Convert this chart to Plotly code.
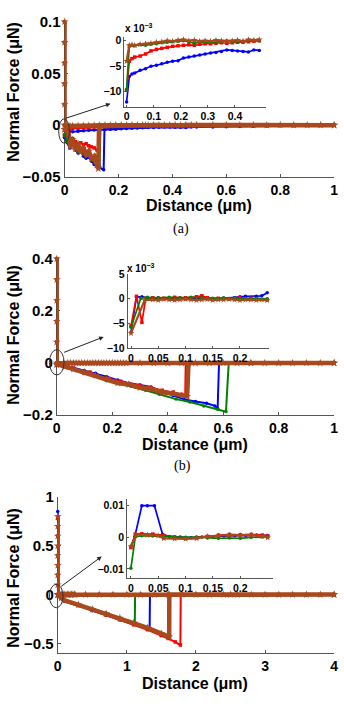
import plotly.graph_objects as go

W, H = 344, 707
COLORS = {'blue': '#0000FF', 'red': '#FF0000', 'green': '#008000', 'brown': '#A8491E'}
ORDER = ['blue', 'red', 'green', 'brown']

# ---------------- Panel (a) ----------------
A_XTICKS = [0, 0.2, 0.4, 0.6, 0.8, 1]
A_XTEXT = ['0', '0.2', '0.4', '0.6', '0.8', '1']
A_YTICKS = [-0.05, 0, 0.05, 0.1]
A_YTEXT = ['−0.05', '0', '0.05', '0.1']
A_IN_XTICKS = [0, 0.1, 0.2, 0.3, 0.4]
A_IN_XTEXT = ['0', '0.1', '0.2', '0.3', '0.4']
A_IN_YTICKS = [-10, -5, 0]
A_IN_YTEXT = ['−10', '−5', '0']

# approach curves (inset), force in 1e-3 uN
A_APP_X = [0, 0.01, 0.02, 0.03, 0.05, 0.07, 0.09, 0.11, 0.13, 0.15, 0.17, 0.19, 0.21, 0.23,
           0.25, 0.27, 0.29, 0.31, 0.33, 0.35, 0.37, 0.39, 0.41, 0.43, 0.45, 0.47, 0.49]
A_APP_Y = {
    'blue': [-12, -7, -6.5, -6.3, -5.8, -5.5, -5.0, -4.8, -4.5, -4.2, -4.0, -3.9, -3.4, -3.2,
             -3.0, -2.8, -2.6, -2.4, -2.3, -2.1, -1.8, -1.9, -2.0, -2.1, -2.2, -1.8, -1.9],
    'red': [-9.7, -4.0, -3.5, -3.2, -3.0, -2.6, -2.0, -1.7, -1.5, -1.3, -1.1, -1.0, -0.9, -0.8,
            -0.9, -0.7, -0.6, -0.6, -0.5, -0.4, -0.5, -0.4, -0.3, -0.3, -0.2, -0.1, 0.0],
    'green': [-9.5, -1.0, -0.9, -1.0, -0.8, -0.9, -0.7, -0.6, -0.4, -0.3, -0.2, -0.1, 0.0, -0.2,
              -0.5, -0.3, -0.3, -0.2, -0.3, -0.1, 0.0, -0.1, -0.2, -0.1, 0.0, 0.1, 0.0],
    'brown': [-4.0, -0.9, -0.8, -0.9, -0.7, -0.6, -0.5, -0.3, -0.2, 0.0, -0.1, 0.1, 0.2, 0.0,
              0.1, -0.1, 0.0, -0.1, 0.1, 0.0, -0.1, 0.0, 0.1, -0.1, 0.2, 0.1, 0.2],
}
A_TAIL_X = [0.55, 0.6, 0.65, 0.7, 0.75, 0.8, 0.85, 0.9, 0.95, 1.0]
A_TAIL_Y = {
    'blue': [-0.0017, -0.0015, -0.0013, -0.0011, -0.0009, -0.0007, -0.0006, -0.0004, -0.0003, -0.0002],
    'red': [0.0, 0.0001, 0.0, -0.0001, 0.0, 0.0001, 0.0, 0.0, 0.0001, 0.0],
    'green': [0.0, 0.0, 0.0001, 0.0, -0.0001, 0.0, 0.0, 0.0001, 0.0, 0.0],
    'brown': [0.0002, 0.0001, 0.0, 0.0001, 0.0, 0.0002, 0.0001, 0.0, 0.0001, 0.0],
}
A_SPIKE_Y = {c: [0.1, 0.08, 0.06, 0.04, 0.02, 0.0] for c in ORDER}
A_RET_X = {
    'blue': [0.0, 0.01, 0.02, 0.03, 0.04, 0.05, 0.06, 0.07, 0.08, 0.09, 0.10, 0.11, 0.12, 0.13, 0.145, 0.148, 0.3, 1.0],
    'red': [0.0, 0.01, 0.02, 0.03, 0.04, 0.05, 0.06, 0.07, 0.08, 0.09, 0.10, 0.11, 0.12, 0.127, 0.13, 0.3, 1.0],
    'green': [0.0, 0.01, 0.02, 0.03, 0.04, 0.05, 0.06, 0.07, 0.08, 0.09, 0.10, 0.11, 0.12, 0.13, 0.133, 0.3, 1.0],
    'brown': [0.0, 0.015, 0.022, 0.03, 0.04, 0.05, 0.06, 0.07, 0.08, 0.09, 0.10, 0.11, 0.12, 0.125, 0.128, 0.3, 1.0],
}
A_RET_Y = {
    'blue': [-0.012, -0.017, -0.022, -0.018, -0.024, -0.027, -0.025, -0.030, -0.032, -0.031, -0.035, -0.038, -0.040, -0.041, -0.043, -0.004, -0.002, 0.0],
    'red': [-0.010, -0.012, -0.015, -0.013, -0.016, -0.018, -0.017, -0.019, -0.018, -0.020, -0.021, -0.022, -0.024, -0.025, -0.001, 0.0, 0.0],
    'green': [-0.009, -0.016, -0.020, -0.015, -0.022, -0.026, -0.022, -0.028, -0.030, -0.027, -0.033, -0.036, -0.038, -0.040, -0.001, 0.0, 0.0],
    'brown': [-0.004, -0.008, -0.021, -0.014, -0.023, -0.018, -0.026, -0.022, -0.028, -0.025, -0.032, -0.030, -0.038, -0.042, -0.001, 0.0, 0.0],
}

# ---------------- Panel (b) ----------------
B_XTICKS = [0, 0.2, 0.4, 0.6, 0.8, 1]
B_XTEXT = ['0', '0.2', '0.4', '0.6', '0.8', '1']
B_YTICKS = [-0.2, 0, 0.2, 0.4]
B_YTEXT = ['−0.2', '0', '0.2', '0.4']
B_IN_XTICKS = [0, 0.05, 0.1, 0.15, 0.2]
B_IN_XTEXT = ['0', '0.05', '0.1', '0.15', '0.2']
B_IN_YTICKS = [-10, -5, 0, 5]
B_IN_YTEXT = ['−10', '−5', '0', '5']

B_APP_X = {
    'blue': [0, 0.01, 0.02, 0.03, 0.05, 0.07, 0.09, 0.11, 0.13, 0.15, 0.17, 0.19, 0.2, 0.21, 0.23, 0.24, 0.25],
    'red': [0, 0.01, 0.02, 0.027, 0.04, 0.06, 0.08, 0.1, 0.12, 0.13, 0.14, 0.16, 0.18, 0.2, 0.22, 0.25],
    'green': [0, 0.018, 0.03, 0.05, 0.07, 0.09, 0.11, 0.13, 0.15, 0.17, 0.19, 0.21, 0.23, 0.25],
    'brown': [0, 0.025, 0.04, 0.05, 0.06, 0.07, 0.08, 0.09, 0.1, 0.11, 0.12, 0.13, 0.14, 0.15,
              0.16, 0.17, 0.18, 0.19, 0.2, 0.21, 0.22, 0.23, 0.24, 0.25],
}
B_APP_Y = {
    'blue': [-6.8, 0.4, 0.4, 0.2, 0.2, 0.1, 0.2, 0.1, 0.0, -0.1, 0.1, 0.2, 0.4, 0.5, 0.5, 0.6, 1.2],
    'red': [-5.5, 0.5, -4.8, 0.1, 0.2, 0.1, 0.3, 0.2, 0.4, 0.6, 0.2, 0.1, 0.0, 0.2, 0.1, -0.2],
    'green': [-5.8, 0.1, 0.3, 0.2, 0.3, 0.2, 0.3, 0.2, 0.1, 0.2, 0.1, 0.0, 0.1, 0.0],
    'brown': [-7.0, -0.3, -0.2, -0.3, -0.1, -0.2, -0.3, -0.2, -0.1, -0.2, -0.3, -0.2, -0.1, -0.3,
              -0.2, -0.2, -0.1, -0.2, -0.3, -0.2, -0.2, -0.3, -0.2, -0.3],
}
B_TAIL_X = [0.3, 0.35, 0.4, 0.45, 0.5, 0.55, 0.6, 0.65, 0.7, 0.75, 0.8, 0.85, 0.9, 0.95, 1.0]
B_TAIL_Y = {
    'blue': [0.001, 0.001, 0.0008, 0.0008, 0.0006, 0.0005, 0.0004, 0.0003, 0.0003, 0.0002, 0.0002, 0.0001, 0.0001, 0.0, 0.0],
    'red': [0.0, 0.0001, 0.0, 0.0, -0.0001, 0.0, 0.0, 0.0001, 0.0, 0.0, 0.0, 0.0001, 0.0, 0.0, 0.0],
    'green': [0.0, 0.0, 0.0001, 0.0, 0.0, 0.0, 0.0001, 0.0, 0.0, 0.0, 0.0001, 0.0, 0.0, 0.0, 0.0],
    'brown': [-0.0002, -0.0003, -0.0002, -0.0002, -0.0003, -0.0002, -0.0001, -0.0002, -0.0002, -0.0003, -0.0002, -0.0002, -0.0001, -0.0002, -0.0002],
}
B_SPIKE_Y = {c: [0.4, 0.32, 0.24, 0.16, 0.08, 0.0] for c in ORDER}
B_RET_X = {
    'blue': [0, 0.03, 0.06, 0.1, 0.14, 0.18, 0.22, 0.26, 0.3, 0.34, 0.38, 0.42, 0.46, 0.5, 0.54, 0.57, 0.58, 0.585, 0.7, 1.0],
    'red': [0, 0.03, 0.06, 0.1, 0.12, 0.15, 0.19, 0.23, 0.27, 0.3, 0.34, 0.38, 0.42, 0.45, 0.463, 0.465, 0.7, 1.0],
    'green': [0, 0.03, 0.06, 0.1, 0.14, 0.18, 0.22, 0.27, 0.32, 0.37, 0.43, 0.48, 0.53, 0.58, 0.61, 0.62, 0.7, 1.0],
    'brown': [0, 0.03, 0.06, 0.1, 0.14, 0.18, 0.22, 0.26, 0.3, 0.34, 0.38, 0.42, 0.45, 0.47, 0.475, 0.7, 1.0],
}
B_RET_Y = {
    'blue': [-0.002, -0.01, -0.018, -0.03, -0.04, -0.053, -0.066, -0.078, -0.085, -0.092, -0.11, -0.125, -0.14, -0.148, -0.155, -0.165, -0.175, 0.0, 0.0, 0.0],
    'red': [-0.002, -0.01, -0.02, -0.04, -0.035, -0.052, -0.06, -0.07, -0.082, -0.086, -0.096, -0.105, -0.112, -0.121, -0.128, 0.0, 0.0, 0.0],
    'green': [-0.003, -0.012, -0.022, -0.035, -0.05, -0.068, -0.078, -0.09, -0.105, -0.12, -0.139, -0.15, -0.165, -0.178, -0.187, 0.0, 0.0, 0.0],
    'brown': [-0.005, -0.014, -0.024, -0.035, -0.048, -0.06, -0.077, -0.083, -0.095, -0.1, -0.112, -0.118, -0.125, -0.128, 0.0, 0.0, 0.0],
}

# ---------------- Panel (c) ----------------
C_XTICKS = [0, 1, 2, 3, 4]
C_XTEXT = ['0', '1', '2', '3', '4']
C_YTICKS = [-0.5, 0, 0.5, 1]
C_YTEXT = ['−0.5', '0', '0.5', '1']
C_IN_XTICKS = [0, 0.05, 0.1, 0.15, 0.2]
C_IN_XTEXT = ['0', '0.05', '0.1', '0.15', '0.2']
C_IN_YTICKS = [-0.01, 0, 0.01]
C_IN_YTEXT = ['−0.01', '0', '0.01']

# approach curves (inset), force in uN
C_APP_X = {
    'blue': [0, 0.007, 0.02, 0.03, 0.043, 0.058, 0.07, 0.09, 0.11, 0.13, 0.15, 0.17, 0.19, 0.21, 0.23, 0.25],
    'red': [0, 0.008, 0.02, 0.04, 0.06, 0.08, 0.1, 0.12, 0.14, 0.16, 0.18, 0.2, 0.22, 0.24, 0.25],
    'green': [0, 0.008, 0.02, 0.04, 0.06, 0.08, 0.1, 0.12, 0.14, 0.16, 0.18, 0.2, 0.22, 0.24, 0.25],
    'brown': [0, 0.01, 0.03, 0.05, 0.06, 0.08, 0.1, 0.12, 0.14, 0.16, 0.18, 0.2, 0.22, 0.24, 0.25],
}
C_APP_Y = {
    'blue': [-0.003, 0.0, 0.0098, 0.0098, 0.0098, 0.0008, 0.0002, 0.0, -0.0002, 0.0, 0.0002, 0.0003, 0.0004, 0.0005, 0.0006, 0.0005],
    'red': [-0.0033, 0.0009, 0.001, 0.0009, 0.0005, 0.0, -0.0003, -0.0002, 0.0002, 0.0006, 0.0008, 0.0007, 0.0008, 0.0006, 0.0003],
    'green': [-0.0098, 0.0, 0.0004, 0.0003, 0.0, 0.0, -0.0001, 0.0, -0.0003, -0.0004, -0.0003, -0.0004, -0.0001, 0.0, 0.0],
    'brown': [-0.003, 0.0008, 0.0006, 0.0004, -0.0004, -0.0005, -0.0006, -0.0004, 0.0002, 0.0004, 0.0006, 0.0005, 0.0006, 0.0003, -0.0002],
}
C_TAIL_X = [0.4, 0.6, 0.8, 1.0, 1.2, 1.4, 1.6, 1.8, 2.0, 2.2, 2.4, 2.6, 2.8, 3.0, 3.2, 3.4, 3.6, 3.8, 4.0]
C_TAIL_Y = {
    'blue': [0.0004, 0.0003, 0.0003, 0.0002, 0.0002, 0.0001, 0.0001, 0.0, 0.0, 0.0, 0.0, 0.0, 0.0, 0.0, 0.0, 0.0, 0.0, 0.0, 0.0],
    'red': [0.0003, 0.0002, 0.0002, 0.0001, 0.0001, 0.0, 0.0, 0.0, 0.0, 0.0, 0.0, 0.0, 0.0, 0.0, 0.0, 0.0, 0.0, 0.0, 0.0],
    'green': [0.0, 0.0, 0.0, 0.0, 0.0, 0.0, 0.0, 0.0, 0.0, 0.0, 0.0, 0.0, 0.0, 0.0, 0.0, 0.0, 0.0, 0.0, 0.0],
    'brown': [0.0, 0.0, 0.0, 0.0, 0.0, 0.0, 0.0, 0.0, 0.0, 0.0, 0.0, 0.0, 0.0, 0.0, 0.0, 0.0, 0.0, 0.0, 0.0],
}
C_SPIKE_Y = {
    'blue': [0.85, 0.6, 0.4, 0.2, 0.0],
    'red': [0.78, 0.6, 0.4, 0.2, 0.0],
    'green': [0.8, 0.6, 0.4, 0.2, 0.0],
    'brown': [0.8, 0.7, 0.6, 0.5, 0.4, 0.3, 0.2, 0.1, 0.0],
}
C_RET_X = {
    'blue': [0, 0.05, 0.1, 0.3, 0.5, 0.7, 0.9, 1.1, 1.2, 1.3, 1.33, 1.335, 2.0, 4.0],
    'red': [0, 0.05, 0.1, 0.3, 0.5, 0.7, 0.9, 1.1, 1.3, 1.5, 1.6, 1.7, 1.775, 1.78, 2.5, 4.0],
    'green': [0, 0.05, 0.1, 0.3, 0.5, 0.7, 0.9, 1.1, 1.115, 1.12, 2.0, 4.0],
    'brown': [0, 0.05, 0.1, 0.3, 0.5, 0.7, 0.9, 1.1, 1.3, 1.5, 1.6, 1.613, 1.615, 2.5, 4.0],
}
C_RET_Y = {
    'blue': [0.0, -0.04, -0.07, -0.115, -0.165, -0.21, -0.255, -0.3, -0.322, -0.345, -0.352, 0.0, 0.0, 0.0],
    'red': [0.0, -0.035, -0.062, -0.11, -0.16, -0.21, -0.26, -0.31, -0.36, -0.42, -0.45, -0.485, -0.517, 0.0, 0.0, 0.0],
    'green': [0.0, -0.035, -0.06, -0.1, -0.145, -0.19, -0.24, -0.3, -0.307, 0.0, 0.0, 0.0],
    'brown': [0.0, -0.035, -0.06, -0.105, -0.15, -0.195, -0.24, -0.29, -0.34, -0.4, -0.428, -0.433, 0.0, 0.0, 0.0],
}

# ---------------- layout helpers ----------------
def xdom(p0, p1):
    return [p0 / W, p1 / W]


def ydom(top, bottom):
    return [1 - bottom / H, 1 - top / H]


def px(x):
    return x / W


def py(y):
    return 1 - y / H


AX = '#555555'
FONT = 'Liberation Sans, Arial, sans-serif'

fig = go.Figure()

MARK = {'blue': 'circle', 'red': 'square', 'green': 'circle', 'brown': 'star'}


def add_panel(n_main, n_in, app_x, app_y, app_scale, tail_x, tail_y, spike_y, ret_x, ret_y):
    xm, ym = ('x' if n_main == 1 else f'x{n_main}'), ('y' if n_main == 1 else f'y{n_main}')
    xi, yi = f'x{n_in}', f'y{n_in}'
    for c in ORDER:
        ax_ = app_x[c] if isinstance(app_x, dict) else app_x
        ay_ = [v * app_scale for v in app_y[c]]
        full_ax = list(ax_) + list(tail_x)
        full_ay = ay_ + list(tail_y[c])
        xs = full_ax[::-1] + [0] * len(spike_y[c]) + list(ret_x[c])
        ys = full_ay[::-1] + list(spike_y[c]) + list(ret_y[c])
        brown = c == 'brown'
        fig.add_trace(go.Scatter(
            x=xs, y=ys, xaxis=xm, yaxis=ym, mode='lines+markers',
            line=dict(color=COLORS[c], width=4.5 if brown else 2),
            marker=dict(color=COLORS[c], size=6 if brown else 3.5, symbol=MARK[c]),
            cliponaxis=False, showlegend=False, hoverinfo='skip'))
    for c in ORDER:
        ax_ = app_x[c] if isinstance(app_x, dict) else app_x
        brown = c == 'brown'
        fig.add_trace(go.Scatter(
            x=ax_, y=app_y[c], xaxis=xi, yaxis=yi, mode='lines+markers',
            line=dict(color=COLORS[c], width=2.2 if brown else 1.7),
            marker=dict(color=COLORS[c], size=5 if brown else 3.5, symbol=MARK[c]),
            cliponaxis=False, showlegend=False, hoverinfo='skip'))


add_panel(1, 2, A_APP_X, A_APP_Y, 1e-3, A_TAIL_X, A_TAIL_Y, A_SPIKE_Y, A_RET_X, A_RET_Y)
add_panel(3, 4, B_APP_X, B_APP_Y, 1e-3, B_TAIL_X, B_TAIL_Y, B_SPIKE_Y, B_RET_X, B_RET_Y)
add_panel(5, 6, C_APP_X, C_APP_Y, 1.0, C_TAIL_X, C_TAIL_Y, C_SPIKE_Y, C_RET_X, C_RET_Y)


def axis(dom, rng, tv, tt, anchor, size, ticklen):
    return dict(domain=dom, range=rng, tickvals=tv, ticktext=tt, anchor=anchor,
                showline=True, linecolor=AX, linewidth=1, ticks='inside', ticklen=ticklen,
                tickcolor=AX, tickwidth=1, showgrid=False, zeroline=False, mirror=False,
                layer='below traces', ticklabelstandoff=0,
                tickfont=dict(family=FONT, size=size, color='black', weight='bold'))


fig.update_layout(
    width=W, height=H, margin=dict(l=0, r=0, t=0, b=0),
    paper_bgcolor='white', plot_bgcolor='white',
    xaxis=axis(xdom(62, 338), [0, 1], A_XTICKS, A_XTEXT, 'y', 14, 3),
    yaxis=axis(ydom(13, 172), [-0.05, 0.1], A_YTICKS, A_YTEXT, 'x', 15, 3),
    xaxis2=axis(xdom(123.3, 268.3), [-0.008, 0.515], A_IN_XTICKS, A_IN_XTEXT, 'y2', 10.5, 2),
    yaxis2=axis(ydom(28.3, 100), [-12.9, 0.8], A_IN_YTICKS, A_IN_YTEXT, 'x2', 10.5, 2),
    xaxis3=axis(xdom(54, 338), [0, 1], B_XTICKS, B_XTEXT, 'y3', 14, 3),
    yaxis3=axis(ydom(256, 416), [-0.2, 0.4], B_YTICKS, B_YTEXT, 'x3', 15, 3),
    xaxis4=axis(xdom(126.7, 271.7), [-0.006, 0.254], B_IN_XTICKS, B_IN_XTEXT, 'y4', 10.5, 2),
    yaxis4=axis(ydom(271.7, 347.3), [-10, 5], B_IN_YTICKS, B_IN_YTEXT, 'x4', 10.5, 2),
    xaxis5=axis(xdom(55, 338), [0, 4], C_XTICKS, C_XTEXT, 'y5', 14, 3),
    yaxis5=axis(ydom(500, 660), [-0.6, 1.0], C_YTICKS, C_YTEXT, 'x5', 15, 3),
    xaxis6=axis(xdom(126, 275), [-0.007, 0.259], C_IN_XTICKS, C_IN_XTEXT, 'y6', 10.5, 2),
    yaxis6=axis(ydom(501.7, 583.3), [-0.0129, 0.012], C_IN_YTICKS, C_IN_YTEXT, 'x6', 10.5, 2),
)

ann = []
TITLE_FONT = dict(family=FONT, size=16, color='black', weight='bold')
for (xc, yc) in [(10, 85), (10, 334), (10, 583)]:
    ann.append(dict(text='Normal Force (μN)', x=px(xc), y=py(yc), xref='paper', yref='paper',
                    showarrow=False, textangle=-90, font=TITLE_FONT, xanchor='center', yanchor='middle'))
for (xc, yc) in [(200, 201.5), (196, 446), (196, 691)]:
    ann.append(dict(text='Distance (μm)', x=px(xc), y=py(yc), xref='paper', yref='paper',
                    showarrow=False, font=TITLE_FONT, xanchor='center', yanchor='middle'))
for (txt, xc, yc) in [('(a)', 181, 225), ('(b)', 183, 468)]:
    ann.append(dict(text=txt, x=px(xc), y=py(yc), xref='paper', yref='paper', showarrow=False,
                    font=dict(family='Liberation Serif, Times New Roman, serif', size=14, color='black'),
                    xanchor='center', yanchor='middle'))
for (xl, yc) in [(122, 19), (124, 265)]:
    ann.append(dict(text='x 10<sup>−3</sup>', x=px(xl), y=py(yc), xref='paper', yref='paper',
                    showarrow=False, xanchor='left', yanchor='middle',
                    font=dict(family=FONT, size=10, color='black', weight='bold')))
# arrows from circled region to inset
for (hx, hy, tx, ty) in [(109, 97, 63, 112), (102, 336, 61, 352), (100, 561, 58, 592)]:
    ann.append(dict(text='', x=px(hx), y=py(hy), xref='paper', yref='paper', showarrow=True,
                    ax=tx - hx, ay=ty - hy, axref='pixel', ayref='pixel',
                    arrowhead=2, arrowsize=0.9, arrowwidth=1, arrowcolor='#222222'))
fig.update_layout(annotations=ann)

shapes = []
for (cx, cy, rx, ry) in [(61.5, 125, 5.5, 12.5), (54, 362, 7.5, 13), (53.5, 601.5, 7, 12)]:
    shapes.append(dict(type='circle', xref='paper', yref='paper',
                       x0=px(cx - rx), x1=px(cx + rx), y0=py(cy + ry), y1=py(cy - ry),
                       line=dict(color='#333333', width=1)))
fig.update_layout(shapes=shapes)

fig.write_html('out.html')
